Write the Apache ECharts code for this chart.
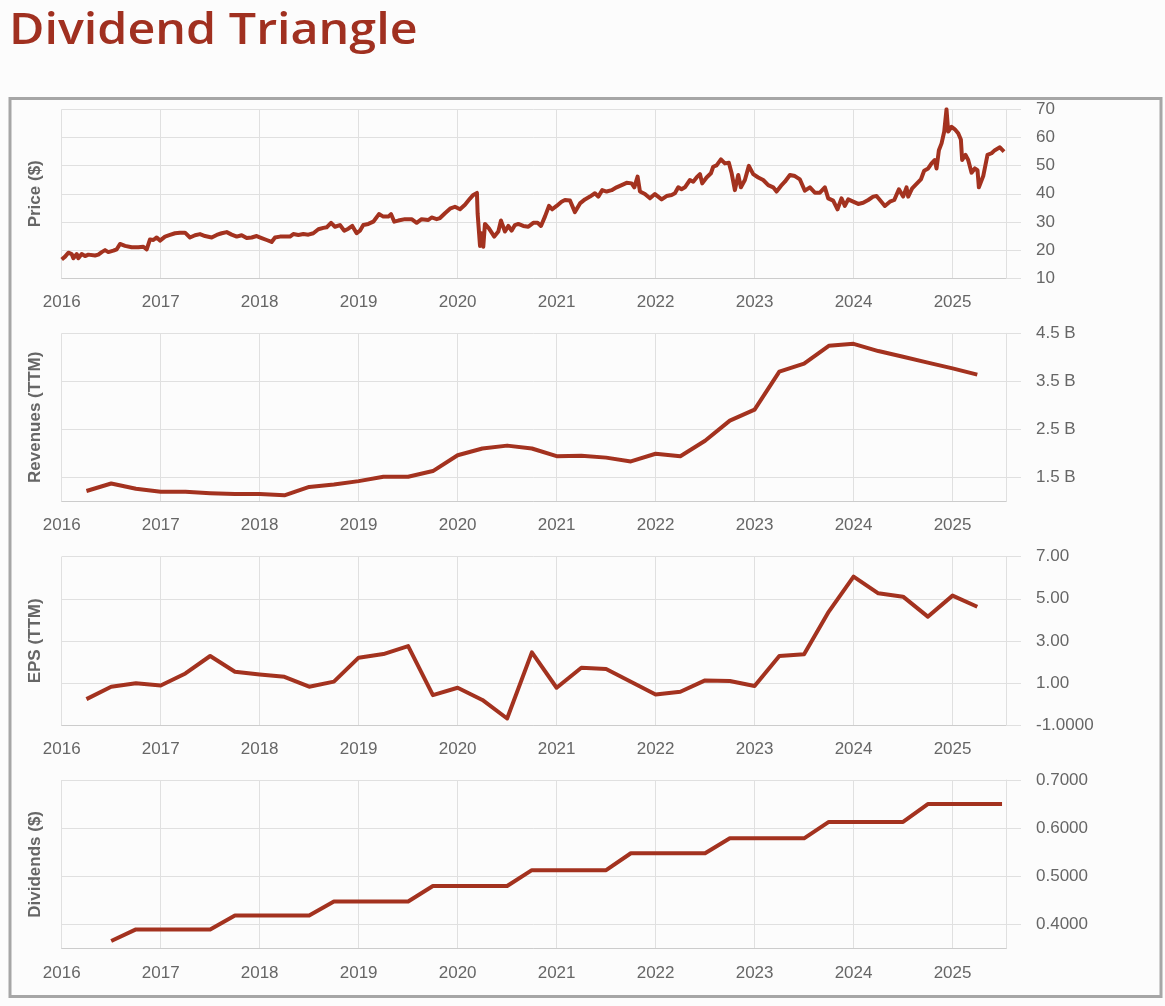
<!DOCTYPE html>
<html>
<head>
<meta charset="utf-8">
<script src="https://cdn.jsdelivr.net/npm/echarts@6/dist/echarts.min.js"></script>
<style>
  html, body { margin: 0; padding: 0; background: #fcfcfc; }
  #chart { width: 1165px; height: 1006px; }
</style>
</head>
<body>
<div id="chart"></div>
<script>
// ---------- DATA ----------
const chartTitle = 'Dividend Triangle';
const yearTicks = [2016, 2017, 2018, 2019, 2020, 2021, 2022, 2023, 2024, 2025];

// Price ($): [decimal year, price]
const priceData = [
  [2016.000,16.7],[2016.034,17.7],[2016.067,19.1],[2016.101,18.6],[2016.118,17.1],[2016.152,18.6],
  [2016.168,17.1],[2016.202,18.6],[2016.236,17.9],[2016.269,18.4],[2016.337,18.1],[2016.370,18.4],
  [2016.404,19.3],[2016.438,20.0],[2016.471,19.3],[2016.522,19.8],[2016.556,20.3],[2016.589,22.2],
  [2016.640,21.5],[2016.707,21.0],[2016.774,21.0],[2016.825,21.2],[2016.859,20.3],[2016.892,23.8],
  [2016.926,23.6],[2016.960,24.5],[2016.993,23.4],[2017.044,24.8],[2017.094,25.4],[2017.145,26.0],
  [2017.195,26.2],[2017.246,26.2],[2017.296,24.5],[2017.347,25.3],[2017.397,25.7],[2017.448,25.0],
  [2017.515,24.5],[2017.566,25.4],[2017.616,26.0],[2017.667,26.4],[2017.717,25.5],[2017.768,24.8],
  [2017.818,25.3],[2017.869,24.3],[2017.919,24.5],[2017.970,25.0],[2018.020,24.3],[2018.071,23.6],
  [2018.121,22.9],[2018.155,24.5],[2018.205,24.8],[2018.256,24.8],[2018.306,24.8],[2018.340,25.7],
  [2018.391,25.4],[2018.441,25.7],[2018.492,25.5],[2018.542,26.0],[2018.593,27.4],[2018.643,27.9],
  [2018.677,28.1],[2018.721,29.7],[2018.761,28.3],[2018.811,28.9],[2018.855,26.9],[2018.896,27.6],
  [2018.936,28.6],[2018.980,26.0],[2019.013,26.9],[2019.047,28.9],[2019.098,29.3],[2019.148,30.1],
  [2019.165,30.5],[2019.205,32.8],[2019.249,31.9],[2019.300,31.9],[2019.327,32.8],[2019.360,30.1],
  [2019.401,30.5],[2019.468,31.0],[2019.535,31.0],[2019.586,29.7],[2019.636,31.0],[2019.704,30.7],
  [2019.737,31.6],[2019.788,31.0],[2019.822,31.4],[2019.872,33.1],[2019.923,34.7],[2019.973,35.4],
  [2020.024,34.5],[2020.074,36.1],[2020.125,38.3],[2020.158,39.6],[2020.195,40.3],[2020.202,33.0],
  [2020.226,21.5],[2020.242,26.0],[2020.259,21.2],[2020.276,29.3],[2020.316,27.7],[2020.370,24.8],
  [2020.411,26.6],[2020.438,30.5],[2020.478,26.6],[2020.512,28.6],[2020.545,26.9],[2020.579,28.9],
  [2020.613,29.3],[2020.663,28.6],[2020.714,28.3],[2020.764,29.7],[2020.808,29.7],[2020.842,28.6],
  [2020.882,31.9],[2020.923,35.7],[2020.956,34.5],[2021.000,35.7],[2021.050,37.2],[2021.084,37.8],
  [2021.135,37.6],[2021.185,33.5],[2021.236,36.6],[2021.286,38.0],[2021.337,39.0],[2021.387,40.2],
  [2021.421,39.0],[2021.461,41.3],[2021.505,40.8],[2021.556,41.3],[2021.606,42.3],[2021.657,43.1],
  [2021.707,43.9],[2021.758,43.7],[2021.785,42.3],[2021.818,46.1],[2021.842,40.8],[2021.892,39.9],
  [2021.943,38.4],[2021.993,39.9],[2022.061,38.0],[2022.111,39.2],[2022.162,39.6],[2022.195,40.2],
  [2022.229,42.3],[2022.262,41.6],[2022.296,42.3],[2022.347,44.9],[2022.380,44.3],[2022.414,45.8],
  [2022.448,47.0],[2022.471,43.7],[2022.515,45.8],[2022.559,47.3],[2022.582,49.6],[2022.616,50.1],
  [2022.660,52.2],[2022.700,50.8],[2022.740,51.0],[2022.767,47.5],[2022.801,41.3],[2022.835,46.7],
  [2022.862,42.3],[2022.902,44.9],[2022.942,49.9],[2022.986,47.0],[2023.037,45.8],[2023.087,44.9],
  [2023.138,43.1],[2023.188,42.3],[2023.222,40.8],[2023.266,42.8],[2023.306,44.3],[2023.357,46.7],
  [2023.407,46.3],[2023.458,45.1],[2023.508,41.1],[2023.559,42.3],[2023.609,40.4],[2023.660,40.4],
  [2023.710,42.3],[2023.744,38.4],[2023.794,37.6],[2023.838,34.5],[2023.878,38.4],[2023.912,35.7],
  [2023.946,38.0],[2023.996,37.2],[2024.047,36.4],[2024.097,36.8],[2024.148,37.8],[2024.198,39.0],
  [2024.232,39.2],[2024.266,37.8],[2024.316,35.7],[2024.367,37.2],[2024.411,37.8],[2024.458,41.6],
  [2024.501,39.0],[2024.535,42.3],[2024.552,39.0],[2024.592,41.9],[2024.636,43.5],[2024.680,45.1],
  [2024.713,48.2],[2024.754,49.0],[2024.788,50.8],[2024.821,52.0],[2024.838,49.0],[2024.862,55.5],
  [2024.889,57.9],[2024.916,62.1],[2024.939,70.0],[2024.956,62.1],[2024.990,63.8],[2025.023,62.9],
  [2025.057,61.5],[2025.084,59.3],[2025.097,52.0],[2025.131,53.8],[2025.158,52.0],[2025.192,47.5],
  [2025.225,49.0],[2025.252,48.4],[2025.266,42.3],[2025.310,46.3],[2025.353,53.8],[2025.394,54.4],
  [2025.428,55.5],[2025.478,56.5],[2025.520,55.0]
];

// Quarterly dates (decimal years)
const quarterDates = [
  2016.25,2016.5,2016.75,2017.0,2017.25,2017.5,2017.75,2018.0,2018.25,2018.5,2018.75,
  2019.0,2019.25,2019.5,2019.75,2020.0,2020.25,2020.5,2020.75,2021.0,2021.25,2021.5,2021.75,
  2022.0,2022.25,2022.5,2022.75,2023.0,2023.25,2023.5,2023.75,2024.0,2024.25,2024.5,2024.75,
  2025.0,2025.25
];
// Revenues TTM (billions)
const revenueValues = [
  1.215,1.37,1.26,1.20,1.20,1.17,1.15,1.15,1.125,1.30,1.35,
  1.42,1.51,1.51,1.63,1.96,2.10,2.16,2.10,1.94,1.95,1.91,1.83,
  1.99,1.94,2.26,2.68,2.91,3.70,3.87,4.24,4.28,4.13,4.01,3.89,
  3.77,3.64
];
// EPS TTM ($)
const epsValues = [
  0.23,0.82,0.98,0.88,1.45,2.28,1.53,1.40,1.29,0.82,1.06,
  2.20,2.37,2.75,0.42,0.77,0.19,-0.69,2.45,0.77,1.72,1.66,1.06,
  0.45,0.58,1.12,1.09,0.85,2.28,2.36,4.39,6.05,5.26,5.10,4.15,
  5.15,4.62
];
// Dividends ($), quarterly from mid-2016
const dividendDates = [
  2016.5,2016.75,2017.0,2017.25,2017.5,2017.75,2018.0,2018.25,2018.5,2018.75,
  2019.0,2019.25,2019.5,2019.75,2020.0,2020.25,2020.5,2020.75,2021.0,2021.25,2021.5,2021.75,
  2022.0,2022.25,2022.5,2022.75,2023.0,2023.25,2023.5,2023.75,2024.0,2024.25,2024.5,2024.75,
  2025.0,2025.25,2025.5
];
const dividendValues = [
  0.366,0.390,0.390,0.390,0.390,0.419,0.419,0.419,0.419,0.448,
  0.448,0.448,0.448,0.480,0.480,0.480,0.480,0.513,0.513,0.513,0.513,0.548,
  0.548,0.548,0.548,0.579,0.579,0.579,0.579,0.613,0.613,0.613,0.613,0.650,
  0.650,0.650,0.650
];

// Axis names and tick labels
const panelNames = ['Price ($)', 'Revenues (TTM)', 'EPS (TTM)', 'Dividends ($)'];
const priceTickValues = [10, 20, 30, 40, 50, 60, 70];
const priceTickLabels = ['10', '20', '30', '40', '50', '60', '70'];
const revenueTickValues = [1.5, 2.5, 3.5, 4.5];
const revenueTickLabels = ['1.5 B', '2.5 B', '3.5 B', '4.5 B'];
const epsTickValues = [-1, 1, 3, 5, 7];
const epsTickLabels = ['-1.0000', '1.00', '3.00', '5.00', '7.00'];
const dividendTickValues = [0.4, 0.5, 0.6, 0.7];
const dividendTickLabels = ['0.4000', '0.5000', '0.6000', '0.7000'];

// ---------- CHART ----------
const LINE = '#a3321f';
const GRIDC = '#e0e0e0';
const TXT = '#666666';
const FONT = 'Liberation Sans, Arial, sans-serif';

const zip = (xs, ys) => xs.map((x, i) => [x, ys[i]]);

const panels = [
  { data: priceData, min: 10, max: 70, ticks: priceTickValues, labels: priceTickLabels, top: 109.3, height: 169, width: 4 },
  { data: zip(quarterDates, revenueValues), min: 1.0, max: 4.5, ticks: revenueTickValues, labels: revenueTickLabels, top: 333.3, height: 168, width: 4 },
  { data: zip(quarterDates, epsValues), min: -1, max: 7, ticks: epsTickValues, labels: epsTickLabels, top: 556.7, height: 168.3, width: 4 },
  { data: zip(dividendDates, dividendValues), min: 0.35, max: 0.70, ticks: dividendTickValues, labels: dividendTickLabels, top: 780, height: 168.7, width: 4 }
];

const grid = [], xAxis = [], yAxis = [], series = [];
panels.forEach((p, i) => {
  grid.push({ left: 61.7, top: p.top, width: 944.3, height: p.height, containLabel: false });
  xAxis.push({
    type: 'value', gridIndex: i, min: 2016, max: 2025.54, interval: 1,
    axisLine: { show: true, onZero: false, lineStyle: { color: '#cccccc', width: 1 } },
    axisTick: { show: false },
    axisLabel: {
      show: true, margin: 16, fontSize: 17, color: TXT, fontFamily: FONT,
      showMaxLabel: false,
      formatter: v => (yearTicks.indexOf(Math.round(v * 1000) / 1000) >= 0 ? String(v) : '')
    },
    splitLine: { show: true, lineStyle: { color: GRIDC, width: 1 } }
  });
  // right value axis
  yAxis.push({
    type: 'value', gridIndex: i, position: 'right', min: p.min, max: p.max,
    axisLine: { show: true, lineStyle: { color: GRIDC, width: 1 } },
    axisTick: { show: true, length: 15, customValues: p.ticks, lineStyle: { color: GRIDC, width: 1 } },
    axisLabel: {
      show: true, margin: 30, fontSize: 17, color: TXT, fontFamily: FONT,
      customValues: p.ticks,
      formatter: v => {
        const k = p.ticks.findIndex(t => Math.abs(t - v) < 1e-6);
        return k >= 0 ? p.labels[k] : '';
      }
    },
    splitLine: { show: true, lineStyle: { color: GRIDC, width: 1 } }
  });
  series.push({
    type: 'line', xAxisIndex: i, yAxisIndex: i * 2, data: p.data,
    showSymbol: false, symbol: 'none', smooth: false,
    lineStyle: { color: LINE, width: p.width, join: 'round' },
    itemStyle: { color: LINE }, z: 5, silent: true
  });
  // left axis used only for the panel name
  yAxis.push({
    type: 'value', gridIndex: i, position: 'left', min: p.min, max: p.max,
    name: panelNames[i], nameLocation: 'middle', nameGap: 18, nameRotate: 90,
    nameTextStyle: { fontSize: 17, fontWeight: 'bold', color: TXT, fontFamily: FONT },
    axisLine: { show: false }, axisTick: { show: false }, axisLabel: { show: false }, splitLine: { show: false }
  });
});

const chart = echarts.init(document.getElementById('chart'), null, { renderer: 'canvas' });
chart.setOption({
  animation: false,
  backgroundColor: '#fcfcfc',
  graphic: [
    {
      type: 'text', x: 9, y: 9, scaleX: 1.1, silent: true,
      style: {
        text: chartTitle, fill: '#a03020',
        fontFamily: 'Open Sans, sans-serif', fontWeight: 600, fontSize: 44,
        verticalAlign: 'top', align: 'left'
      }
    },
    {
      type: 'rect', left: 7.5, top: 96, z: -1, silent: true,
      shape: { width: 1151, height: 898 },
      style: { fill: 'none', stroke: '#a6a6a6', lineWidth: 3 }
    }
  ],
  grid, xAxis, yAxis, series
});
</script>
</body>
</html>
